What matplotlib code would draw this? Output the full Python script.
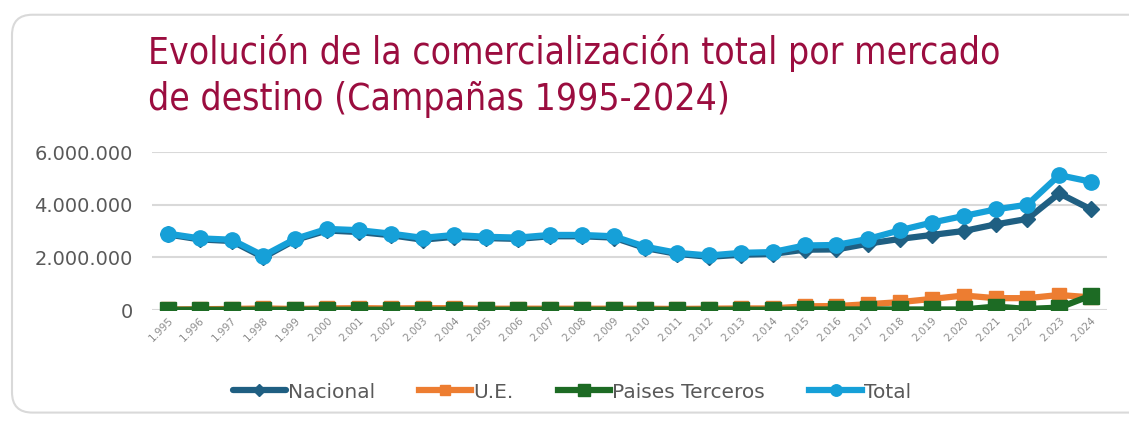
import matplotlib
matplotlib.use("Agg")
import matplotlib.pyplot as plt
from matplotlib.patches import FancyBboxPatch
from matplotlib.ticker import FuncFormatter

years = list(range(1995, 2025))
year_labels = [f"{y // 1000}.{y % 1000:03d}" for y in years]

total = [2.90, 2.72, 2.67, 2.06, 2.70, 3.08, 3.03, 2.90, 2.74, 2.85,
         2.78, 2.75, 2.85, 2.85, 2.80, 2.40, 2.17, 2.07, 2.17, 2.20,
         2.45, 2.47, 2.70, 3.03, 3.32, 3.57, 3.82, 4.00, 5.12, 4.87]
nacional = [2.87, 2.68, 2.62, 2.00, 2.66, 3.02, 2.96, 2.84, 2.67, 2.78,
            2.73, 2.70, 2.80, 2.80, 2.75, 2.35, 2.13, 2.02, 2.10, 2.13,
            2.29, 2.30, 2.52, 2.70, 2.85, 3.00, 3.25, 3.46, 4.43, 3.82]
ue = [0.02, 0.03, 0.04, 0.06, 0.04, 0.06, 0.07, 0.06, 0.07, 0.07,
      0.05, 0.05, 0.05, 0.05, 0.05, 0.05, 0.04, 0.05, 0.06, 0.06,
      0.14, 0.15, 0.22, 0.30, 0.42, 0.55, 0.45, 0.45, 0.57, 0.48]
terceros = [0.01, 0.01, 0.01, 0.01, 0.01, 0.01, 0.01, 0.01, 0.01, 0.01,
            0.01, 0.01, 0.01, 0.01, 0.01, 0.01, 0.01, 0.01, 0.01, 0.01,
            0.02, 0.02, 0.02, 0.02, 0.02, 0.02, 0.13, 0.04, 0.09, 0.55]

scale = 1_000_000
x = list(range(len(years)))

fig = plt.figure(figsize=(11.29, 4.21), dpi=100)
card = FancyBboxPatch((12 / 1129, 0.02), 1.2, 0.945, transform=fig.transFigure,
                      boxstyle="round,pad=0,rounding_size=0.018",
                      facecolor="white", edgecolor="#d9d9d9", linewidth=1.5,
                      mutation_aspect=1129 / 421, zorder=-10)
fig.patches.append(card)

fig.text(148 / 1129, 1 - 76 / 421, "Evolución de la comercialización total por mercado\nde destino (Campañas 1995-2024)",
         color="#9B0D3F", fontsize=26.7, family="DejaVu Sans", fontstretch="condensed",
         va="center", ha="left", linespacing=1.3)

ax = fig.add_axes([152 / 1129, 1 - 310 / 421, (1107 - 152) / 1129, (310 - 152) / 421])
ax.set_facecolor("none")

lw = 4.5
ax.plot(x, [v * scale for v in nacional], color="#1F5F82", lw=lw, marker="D", ms=8,
        label="Nacional", zorder=3, solid_capstyle="round")
ax.plot(x, [v * scale for v in ue], color="#ED7D31", lw=lw, marker="s", ms=10,
        label="U.E.", zorder=2)
ax.plot(x, [v * scale for v in terceros], color="#1D6B24", lw=lw, marker="s", ms=11,
        label="Paises Terceros", zorder=3)
ax.plot(x, [v * scale for v in total], color="#16A0D8", lw=lw, marker="o", ms=11,
        label="Total", zorder=4)

ax.set_xlim(-0.5, len(years) - 0.5)
ax.set_ylim(0, 6 * scale)
ax.set_yticks([0, 2 * scale, 4 * scale, 6 * scale])
ax.yaxis.set_major_formatter(FuncFormatter(lambda v, p: f"{int(v):,}".replace(",", ".")))
ax.set_xticks(x)
ax.set_xticklabels(year_labels, rotation=45, ha="right", rotation_mode="anchor",
                   fontsize=7.5, color="#8c8c8c")
ax.tick_params(axis="y", labelsize=14, colors="#595959", length=0, pad=14)
ax.tick_params(axis="x", length=0, pad=4)
ax.grid(axis="y", color="#d9d9d9", lw=1.5)
ax.set_axisbelow(True)
for s in ax.spines.values():
    s.set_visible(False)

leg = fig.legend(loc="center", bbox_to_anchor=(572 / 1129, 1 - 392 / 421), ncol=4,
                 frameon=False, fontsize=14.5, handlelength=2.6, columnspacing=2.2,
                 handletextpad=0.1, markerscale=0.75)
for t in leg.get_texts():
    t.set_color("#595959")

fig.savefig("out.png", dpi=100)
